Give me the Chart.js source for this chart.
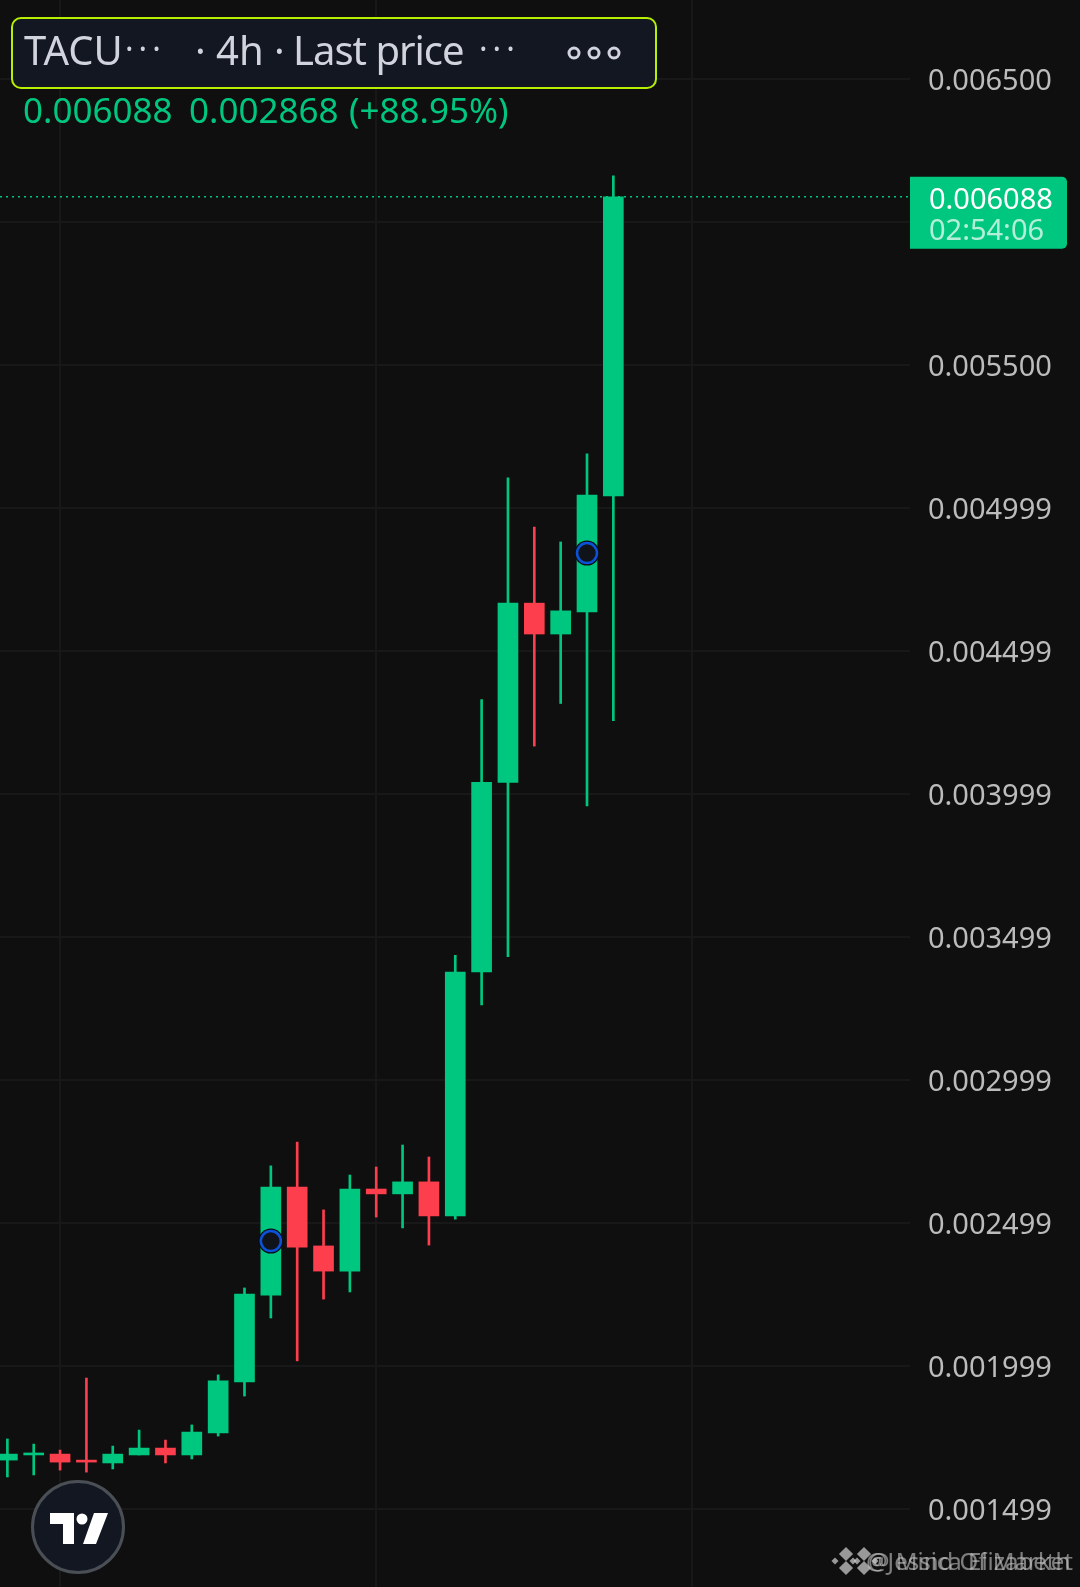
<!DOCTYPE html>
<html>
<head>
<meta charset="utf-8">
<title>TACU 4h</title>
<script src="https://cdn.jsdelivr.net/npm/chart.js@4"></script>
<style>
  html, body { margin: 0; padding: 0; background: #0f0f0f; }
  canvas { display: block; }
</style>
</head>
<body>
<canvas id="myChart" width="1080" height="1587"></canvas>
<script>
const opens  = [0.001670, 0.001688, 0.001691, 0.001670, 0.001660, 0.001688, 0.001712, 0.001688, 0.001765, 0.001943, 0.002247, 0.002625, 0.002419, 0.002331, 0.002618, 0.002601, 0.002643, 0.002524, 0.003377, 0.004040, 0.004667, 0.004559, 0.004636, 0.005042];
const highs  = [0.001744, 0.001726, 0.001705, 0.001957, 0.001719, 0.001775, 0.001740, 0.001793, 0.001968, 0.002272, 0.002699, 0.002782, 0.002545, 0.002667, 0.002695, 0.002772, 0.002730, 0.003435, 0.004330, 0.005105, 0.004933, 0.004881, 0.005189, 0.006161];
const lows   = [0.001611, 0.001618, 0.001635, 0.001628, 0.001639, 0.001688, 0.001660, 0.001674, 0.001754, 0.001894, 0.002167, 0.002017, 0.002233, 0.002258, 0.002520, 0.002482, 0.002422, 0.002513, 0.003262, 0.003431, 0.004167, 0.004316, 0.003958, 0.004256];
const closes = [0.001691, 0.001695, 0.001663, 0.001663, 0.001691, 0.001712, 0.001688, 0.001768, 0.001947, 0.002251, 0.002625, 0.002415, 0.002331, 0.002618, 0.002601, 0.002643, 0.002524, 0.003377, 0.004040, 0.004667, 0.004559, 0.004640, 0.005045, 0.006088];

const yTicks  = [0.0065, 0.006, 0.0055, 0.004999, 0.004499, 0.003999, 0.003499, 0.002999, 0.002499, 0.001999, 0.001499];
const yLabels = ['0.006500', '', '0.005500', '0.004999', '0.004499', '0.003999', '0.003499', '0.002999', '0.002499', '0.001999', '0.001499'];
const xTicks  = [2, 14, 26];

const lastPrice = 0.006088;
const markers = [{x: 10, y: 0.002436}, {x: 22, y: 0.004842}];

const GREEN = '#00c77f';
const RED = '#fd3e4d';
const FONT = '"Noto Sans"';

const xMin = -0.28, xMax = 34.26;

const candleColors = closes.map((c, i) => c >= opens[i] ? GREEN : RED);

const data = {
  datasets: [
    {
      type: 'line',
      data: [{x: xMin, y: lastPrice}, {x: xMax, y: lastPrice}],
      borderColor: GREEN,
      borderWidth: 1.5,
      borderDash: [2, 4],
      pointRadius: 0,
      order: 5
    },
    {
      type: 'bar',
      data: highs.map((h, i) => ({x: i, y: [lows[i], h]})),
      backgroundColor: candleColors,
      barThickness: 2,
      grouped: false,
      order: 4
    },
    {
      type: 'bar',
      data: opens.map((o, i) => ({x: i, y: [o, closes[i]]})),
      backgroundColor: candleColors,
      barThickness: 20,
      grouped: false,
      order: 3
    },
    {
      type: 'scatter',
      data: markers,
      pointRadius: 12.5,
      pointBackgroundColor: '#0b0d12',
      pointBorderWidth: 0,
      order: 2
    },
    {
      type: 'scatter',
      data: markers,
      pointRadius: 10,
      pointBackgroundColor: '#10131a',
      pointBorderColor: '#0b52d9',
      pointBorderWidth: 2.5,
      order: 1
    }
  ]
};

// header box, price badge, logo and watermark sit on top of the chart
const overlay = {
  id: 'overlay',
  afterDraw(chart) {
    const ctx = chart.ctx;
    const y = chart.scales.y;
    ctx.save();
    ctx.textBaseline = 'alphabetic';
    ctx.textAlign = 'left';

    // header
    ctx.beginPath();
    ctx.roundRect(12, 18, 644, 70, 9);
    ctx.fillStyle = '#131722';
    ctx.fill();
    ctx.lineWidth = 2;
    ctx.strokeStyle = '#b6f000';
    ctx.stroke();

    ctx.fillStyle = '#d1d4dc';
    ctx.font = '40px ' + FONT;
    ctx.fillText('TACU', 24, 65);
    ctx.fillText('· 4h ·', 195, 65);
    ctx.letterSpacing = '-1px';
    ctx.fillText('Last price', 293, 65);
    ctx.font = '32px ' + FONT;
    ctx.letterSpacing = '5px';
    ctx.fillText('···', 125, 60);
    ctx.fillText('···', 479, 60);
    ctx.letterSpacing = '0px';
    ctx.lineWidth = 3;
    ctx.strokeStyle = '#d1d4dc';
    [574, 594, 614].forEach(cx => {
      ctx.beginPath();
      ctx.arc(cx, 53, 5, 0, Math.PI * 2);
      ctx.stroke();
    });

    ctx.fillStyle = GREEN;
    ctx.font = '35px ' + FONT;
    ctx.fillText('0.006088', 23, 123);
    ctx.fillText('0.002868', 189, 123);
    ctx.fillText('(+88.95%)', 349, 123);

    // last price badge
    const py = y.getPixelForValue(lastPrice);
    ctx.beginPath();
    ctx.roundRect(910, py - 20, 157, 72, [0, 5, 5, 0]);
    ctx.fillStyle = GREEN;
    ctx.fill();
    ctx.font = '29px ' + FONT;
    ctx.fillStyle = '#ffffff';
    ctx.fillText('0.006088', 929, py + 12);
    ctx.fillStyle = 'rgba(255,255,255,0.7)';
    ctx.fillText('02:54:06', 929, py + 43);

    // logo
    ctx.beginPath();
    ctx.arc(78, 1527, 45.5, 0, Math.PI * 2);
    ctx.fillStyle = '#131722';
    ctx.fill();
    ctx.lineWidth = 3;
    ctx.strokeStyle = '#4a4e55';
    ctx.stroke();
    ctx.fillStyle = '#ffffff';
    ctx.beginPath();
    ctx.moveTo(50, 1513); ctx.lineTo(74, 1513); ctx.lineTo(74, 1544);
    ctx.lineTo(63, 1544); ctx.lineTo(63, 1524); ctx.lineTo(50, 1524);
    ctx.closePath();
    ctx.moveTo(94, 1513); ctx.lineTo(108, 1513); ctx.lineTo(96, 1544); ctx.lineTo(83, 1544);
    ctx.closePath();
    ctx.fill();
    ctx.beginPath();
    ctx.arc(82, 1519, 5.5, 0, Math.PI * 2);
    ctx.fill();

    // watermark, two overlapping ones like the source screenshot
    ctx.fillStyle = 'rgba(200,200,200,0.75)';
    [846, 864].forEach(cx => {
      [[-11, 0, 2.5], [11, 0, 2.5], [0, -7, 5], [0, 7, 5]].forEach(d => {
        ctx.save();
        ctx.translate(cx + d[0], 1561 + d[1]);
        ctx.rotate(Math.PI / 4);
        ctx.fillRect(-d[2], -d[2], d[2] * 2, d[2] * 2);
        ctx.restore();
      });
    });
    ctx.font = '24px ' + FONT;
    ctx.fillStyle = 'rgba(200,200,200,0.6)';
    ctx.fillText('@Jessica Elizabeth', 866, 1570);
    ctx.fillText('@ Mind Of Market', 868, 1570);
    ctx.restore();
  }
};

const config = {
  data,
  plugins: [overlay],
  options: {
    responsive: false,
    animation: false,
    devicePixelRatio: 1,
    layout: {padding: 0, autoPadding: false},
    plugins: {legend: {display: false}, tooltip: {enabled: false}},
    scales: {
      x: {
        type: 'linear',
        offset: false,
        min: xMin,
        max: xMax,
        afterBuildTicks: axis => { axis.ticks = xTicks.map(v => ({value: v})); },
        ticks: {display: false},
        border: {display: false},
        grid: {color: '#181818', lineWidth: 2, drawTicks: false, offset: false}
      },
      y: {
        position: 'right',
        min: 0.0012262,
        max: 0.0067763,
        afterBuildTicks: axis => { axis.ticks = yTicks.map(v => ({value: v})); },
        afterFit: axis => {
          axis.width = 170;
          axis.paddingTop = 0;
          axis.paddingBottom = 0;
        },
        ticks: {
          color: '#bcbcbc',
          padding: 18,
          labelOffset: 3,
          font: {family: FONT, size: 29},
          callback: (v) => yLabels[yTicks.indexOf(v)]
        },
        border: {display: false},
        grid: {color: '#181818', lineWidth: 2, drawTicks: false}
      }
    }
  }
};

const myChart = new Chart(document.getElementById('myChart'), config);
</script>
</body>
</html>
